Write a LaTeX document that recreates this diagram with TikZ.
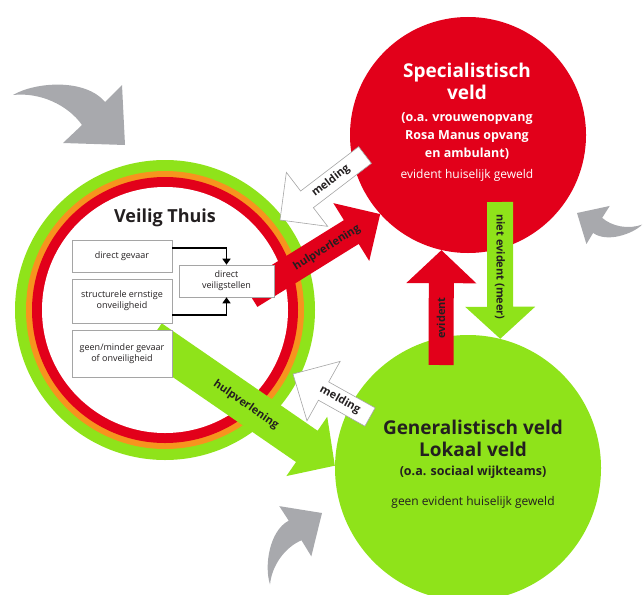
\documentclass[tikz,border=0pt]{standalone}
\usepackage{fontspec}
\setmainfont{Open Sans}
\usetikzlibrary{arrows.meta,calc,positioning}
\definecolor{vtrood}{RGB}{226,0,26}
\definecolor{vtgroen}{RGB}{143,227,26}
\definecolor{vtoranje}{RGB}{247,148,30}
\definecolor{vtgrijs}{RGB}{168,169,173}
\definecolor{vtrand}{RGB}{165,165,165}
\definecolor{vttekst}{RGB}{35,31,32}
\tikzset{
    kader/.style={draw=vtrand, line width=0.6pt, fill=white, text=vttekst,
        font=\fontsize{9}{11}\selectfont, align=center, inner sep=2pt},
    titel/.style={font=\bfseries\fontsize{19}{22}\selectfont, align=center},
    subtitel/.style={font=\bfseries\fontsize{12.5}{18}\selectfont, align=center},
    regel/.style={font=\fontsize{12}{14}\selectfont},
    pijltekst/.style={font=\bfseries\fontsize{11}{13}\selectfont, text=vttekst},
    witpijl/.style={fill=white, draw=vtrand, line width=0.6pt},
    roodpijl/.style={fill=vtrood},
    groenpijl/.style={fill=vtgroen},
    grijspijl/.style={fill=vtgrijs},
    verbinding/.style={line width=1.6pt, -{Triangle[length=6pt,width=8pt]}},
    schijf/.style={circle, inner sep=0pt}
}
% dikke pijl: stijl, begin, eind, halve schacht, halve kop, kop lengte
\newcommand{\dikkepijl}[6]{%
  \coordinate (pijlbasis) at ($(#3)!#6!(#2)$);
  \path[#1] ($(#2)!#4!90:(#3)$) -- ($(pijlbasis)!#4!90:(#3)$)
     -- ($(pijlbasis)!#5!90:(#3)$) -- (#3)
     -- ($(pijlbasis)!#5!-90:(#3)$) -- ($(pijlbasis)!#4!-90:(#3)$)
     -- ($(#2)!#4!-90:(#3)$) -- cycle;
}
% gebogen grijze pijl: punt, draaiing, schaal
\newcommand{\grijzepijl}[3]{%
  \fill[grijspijl, shift={#1}, rotate=#2, scale=#3]
    (-112,-50) .. controls (-90,-63) and (-40,-67) .. (-20,-43)
    -- (-3,-60) -- (0,0) -- (-62,-2) -- (-43,-20)
    .. controls (-57,-40) and (-85,-53) .. (-112,-50) -- cycle;
}

\begin{document}
\begin{tikzpicture}[x=1pt,y=-1pt]
    \useasboundingbox (0,0) rectangle (644,594);

    % grijze pijlen
    \grijzepijl{(125,145)}{0}{1}
    \grijzepijl{(577,213)}{194}{0.54}
    \grijzepijl{(322,513)}{78}{0.72}

    % Veilig Thuis
    \node[schijf, fill=vtgroen, minimum size=300pt] (ringgroen) at (165,310) {};
    \node[schijf, fill=vtoranje, minimum size=278pt] (ringoranje) at (ringgroen) {};
    \node[schijf, fill=vtrood, minimum size=266pt] (ringrood) at (ringgroen) {};
    \node[schijf, fill=white, minimum size=246pt] (vt) at (ringgroen) {};

    % velden
    \node[schijf, fill=vtrood, minimum size=236pt] (spec) at (468,135) {};
    \node[schijf, fill=vtgroen, minimum size=266pt] (gen) at (468,468) {};

    \coordinate (hvroodbegin) at (250,295);
    \coordinate (meldboven) at (365,155);
    \coordinate (meldbovenpunt) at (280,220);
    \coordinate (hvgroenbegin) at (151,339);
    \coordinate (meldonder) at (370,417);
    \coordinate (meldonderpunt) at (293,374);
    \coordinate (evidentbegin) at (441,365);
    \coordinate (nietevidentbegin) at (500,202);

    \dikkepijl{roodpijl}{hvroodbegin}{spec.-138}{14pt}{34pt}{34pt}
    \dikkepijl{witpijl}{meldboven}{meldbovenpunt}{10.5pt}{34pt}{34pt}
    \dikkepijl{groenpijl}{hvgroenbegin}{gen.179}{19pt}{36pt}{34pt}
    \dikkepijl{witpijl}{meldonder}{meldonderpunt}{10.5pt}{34pt}{35pt}
    \dikkepijl{roodpijl}{evidentbegin}{spec.-103}{12.5pt}{35pt}{33pt}
    \dikkepijl{groenpijl}{nietevidentbegin}{gen.76}{13pt}{35pt}{32pt}

    % kaders
    \node[font=\bfseries\fontsize{18}{20}\selectfont, text=vttekst] (vttitel) at (165,218) {Veilig Thuis};
    \node[kader, minimum width=100pt, minimum height=32pt] (gevaar) at (122,256) {direct gevaar};
    \node[kader, minimum width=100pt, minimum height=44pt] (structureel) at (122,301) {structurele ernstige\\onveiligheid};
    \node[kader, minimum width=100pt, minimum height=47pt] (mindergevaar) at (122,353.5) {geen/minder gevaar\\of onveiligheid};
    \node[kader, minimum width=95pt, minimum height=32pt] (veiligstellen) at (226.5,281) {direct\\veiligstellen};

    \draw[verbinding] ($(gevaar.north east)!0.25!(gevaar.south east)$) -| (veiligstellen.north);
    \draw[verbinding] ($(structureel.north east)!0.82!(structureel.south east)$) -| (veiligstellen.south);

    % teksten
    \node[titel, text=white] (spectitel) at (467,81) {Specialistisch\\veld};
    \node[subtitel, text=white] (specsub) at (467,136) {(o.a. vrouwenopvang\\Rosa Manus opvang\\en ambulant)};
    \node[regel, text=white] (specregel) at (467,175) {evident huiselijk geweld};
    \node[titel, text=vttekst] (gentitel) at (473,438) {Generalistisch veld\\Lokaal veld};
    \node[subtitel, text=vttekst] (gensub) at (473,472) {(o.a. sociaal wijkteams)};
    \node[regel, text=vttekst] (genregel) at (473,502) {geen evident huiselijk geweld};

    \node[pijltekst, rotate=32] (hvroodtekst) at (327,248) {hulpverlening};
    \node[pijltekst, rotate=37.5] (meldboventekst) at (331,181) {melding};
    \node[pijltekst, rotate=-29] (meldondertekst) at (340,400) {melding};
    \node[pijltekst, rotate=-34.5] (hvgroentekst) at (246,405) {hulpverlening};
    \node[pijltekst, rotate=90] (evidenttekst) at (441,318) {evident};
    \node[pijltekst, rotate=-90] (nietevidenttekst) at (500,267) {niet evident (meer)};
\end{tikzpicture}
\end{document}
